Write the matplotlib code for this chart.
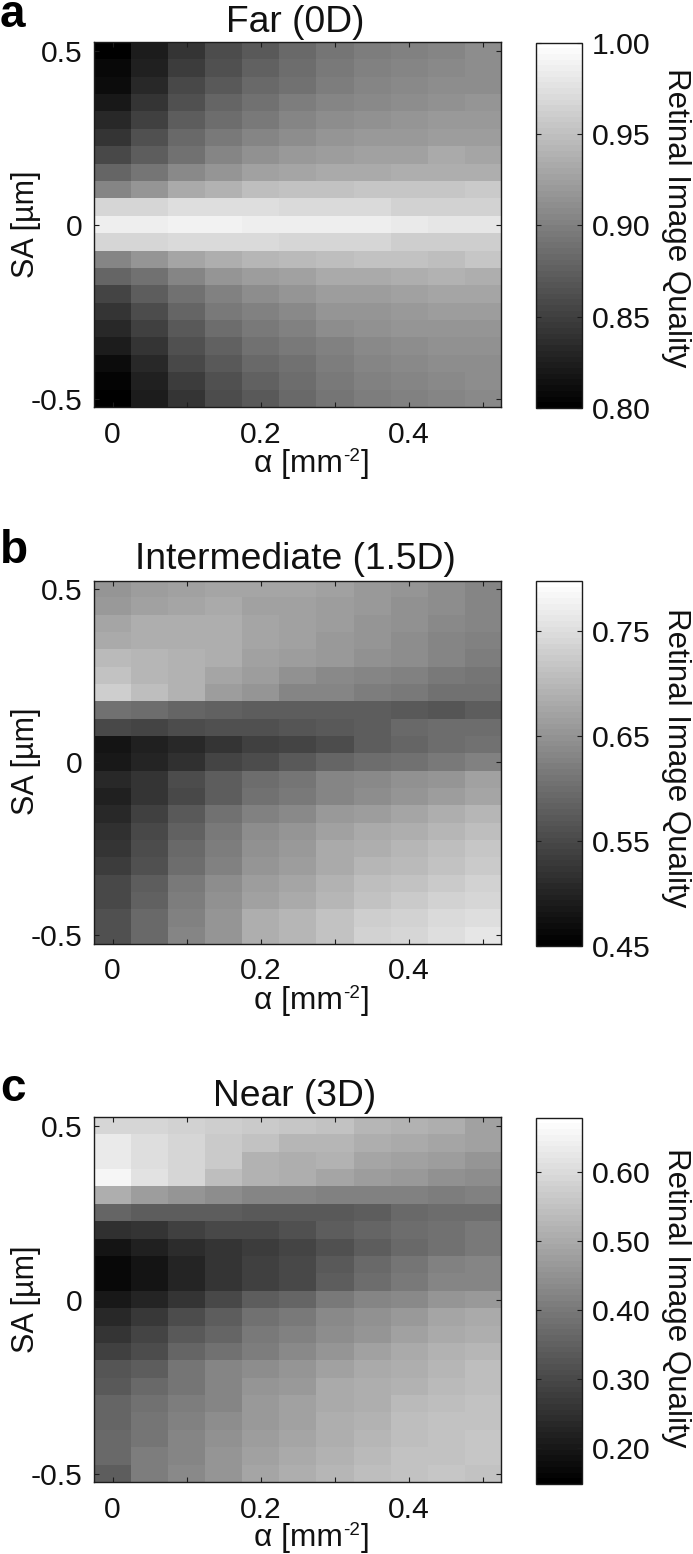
import numpy as np
import matplotlib
matplotlib.use("Agg")
import matplotlib.pyplot as plt

plt.rcParams['font.family'] = ['Liberation Sans', 'DejaVu Sans']

W, H = 693, 1554

alpha_values = [0, .05, .1, .15, .2, .25, .3, .35, .4, .45, .5]
sa_values = [.5, .45, .4, .35, .3, .25, .2, .15, .1, .05, 0,
             -.05, -.1, -.15, -.2, -.25, -.3, -.35, -.4, -.45, -.5]

# Cell values read as positions along each colour bar (0 = bottom, 255 = top)
far_levels = [
    [0, 30, 55, 78, 90, 105, 118, 125, 130, 135, 140],
    [8, 35, 62, 82, 98, 110, 120, 128, 133, 137, 140],
    [15, 42, 72, 90, 105, 115, 125, 132, 137, 140, 143],
    [27, 55, 82, 100, 115, 125, 132, 138, 142, 145, 148],
    [40, 65, 92, 110, 122, 135, 142, 146, 150, 152, 152],
    [55, 80, 105, 122, 132, 140, 150, 152, 155, 158, 158],
    [72, 95, 115, 132, 145, 152, 158, 160, 163, 168, 166],
    [100, 118, 138, 150, 160, 165, 170, 170, 172, 174, 172],
    [135, 150, 168, 178, 188, 192, 195, 196, 196, 196, 200],
    [215, 215, 222, 222, 222, 218, 218, 218, 210, 208, 208],
    [238, 238, 240, 240, 238, 238, 238, 238, 232, 230, 228],
    [214, 214, 218, 218, 216, 212, 212, 212, 206, 204, 204],
    [135, 150, 165, 175, 182, 186, 190, 192, 192, 190, 198],
    [100, 115, 135, 148, 158, 162, 170, 170, 172, 176, 172],
    [70, 92, 115, 130, 142, 148, 156, 158, 162, 166, 166],
    [55, 78, 102, 120, 130, 138, 148, 150, 154, 156, 158],
    [42, 65, 90, 108, 120, 130, 140, 145, 148, 150, 150],
    [28, 55, 80, 98, 112, 122, 130, 138, 142, 145, 146],
    [15, 42, 72, 90, 105, 115, 125, 132, 137, 140, 142],
    [6, 35, 62, 82, 98, 110, 120, 128, 133, 137, 140],
    [0, 30, 55, 78, 90, 105, 118, 125, 130, 135, 138],
]
intermediate_levels = [
    [150, 158, 162, 165, 165, 165, 160, 155, 148, 142, 135],
    [155, 162, 165, 168, 162, 160, 158, 152, 145, 140, 132],
    [165, 172, 172, 172, 165, 160, 158, 150, 145, 138, 132],
    [168, 172, 172, 172, 165, 160, 152, 148, 142, 135, 128],
    [185, 182, 178, 172, 162, 158, 152, 146, 140, 132, 125],
    [192, 182, 178, 165, 158, 145, 138, 135, 128, 122, 118],
    [205, 190, 178, 158, 150, 135, 132, 126, 120, 112, 112],
    [112, 108, 100, 98, 95, 95, 95, 92, 88, 85, 92],
    [72, 70, 78, 80, 82, 85, 88, 92, 105, 108, 108],
    [22, 32, 42, 55, 65, 70, 78, 92, 100, 108, 112],
    [24, 38, 50, 68, 78, 88, 102, 108, 115, 122, 128],
    [42, 55, 78, 95, 110, 118, 135, 138, 145, 150, 160],
    [35, 55, 75, 95, 112, 122, 135, 142, 150, 158, 165],
    [42, 65, 90, 115, 130, 138, 152, 158, 165, 172, 180],
    [48, 72, 98, 122, 140, 150, 162, 168, 172, 182, 190],
    [55, 78, 105, 125, 145, 155, 168, 175, 180, 190, 198],
    [60, 82, 108, 128, 148, 158, 170, 180, 185, 195, 200],
    [72, 95, 120, 140, 158, 165, 178, 190, 195, 200, 208],
    [75, 98, 125, 145, 162, 170, 182, 195, 200, 210, 215],
    [80, 105, 130, 150, 175, 180, 192, 205, 208, 218, 222],
    [80, 105, 132, 150, 175, 182, 195, 208, 212, 222, 228],
]
near_levels = [
    [215, 212, 210, 205, 200, 198, 192, 182, 178, 172, 160],
    [232, 222, 215, 202, 195, 182, 182, 175, 170, 165, 160],
    [232, 222, 215, 202, 178, 175, 178, 165, 160, 158, 150],
    [245, 225, 215, 188, 178, 172, 165, 158, 152, 145, 142],
    [175, 158, 150, 142, 135, 132, 130, 128, 128, 125, 128],
    [100, 95, 92, 92, 90, 88, 88, 92, 105, 108, 110],
    [50, 55, 65, 72, 75, 82, 92, 100, 108, 115, 120],
    [22, 35, 45, 55, 62, 70, 82, 92, 105, 115, 120],
    [8, 22, 38, 52, 65, 75, 90, 105, 118, 130, 135],
    [8, 22, 38, 52, 65, 75, 92, 108, 120, 132, 135],
    [25, 38, 55, 72, 92, 100, 120, 132, 138, 150, 155],
    [42, 58, 78, 95, 112, 122, 138, 145, 155, 165, 170],
    [55, 68, 88, 102, 120, 128, 140, 150, 162, 170, 175],
    [65, 78, 100, 112, 125, 138, 148, 160, 168, 178, 182],
    [85, 95, 118, 132, 142, 148, 160, 170, 175, 180, 188],
    [90, 105, 118, 132, 150, 155, 168, 172, 178, 185, 190],
    [100, 115, 125, 135, 152, 160, 170, 175, 185, 190, 192],
    [102, 118, 128, 140, 155, 162, 172, 178, 188, 192, 195],
    [105, 118, 135, 145, 158, 165, 175, 182, 190, 195, 198],
    [105, 125, 135, 148, 160, 170, 178, 185, 192, 195, 198],
    [95, 125, 138, 150, 165, 172, 180, 188, 195, 198, 195],
]

titles = ['Far (0D)', 'Intermediate (1.5D)', 'Near (3D)']
letters = ['a', 'b', 'c']
levels = [far_levels, intermediate_levels, near_levels]
vmins = [0.80, 0.45, 0.148]
vmaxs = [1.00, 0.798, 0.678]
cbar_ticks = [[0.80, 0.85, 0.90, 0.95, 1.00],
              [0.45, 0.55, 0.65, 0.75],
              [0.20, 0.30, 0.40, 0.50, 0.60]]
x_ticks = [0, .1, .2, .3, .4, .5]
x_ticklabels = ['0', '', '0.2', '', '0.4', '']
y_ticks = [-.5, 0, .5]
y_ticklabels = ['-0.5', '0', '0.5']

# pixel layout
ax_tops = [42.3, 580.7, 1117.3]
ax_bots = [407.3, 944.0, 1482.3]
cb_tops = [42.5, 581.0, 1117.7]
cb_bots = [408.0, 946.0, 1484.0]
title_base = [32, 569, 1106]
letter_base = [27, 563, 1101]
xlabel_base = [472, 1009, 1546]
side_center = [218, 758, 1298]

fig = plt.figure(figsize=(W / 100, H / 100), dpi=100, facecolor='white')
cmap = plt.get_cmap('gray', 64)
FRAME = '#1c1c1c'
TEXT = '#111111'


def axes_px(l, t, r, b):
    return fig.add_axes([l / W, 1 - b / H, (r - l) / W, (b - t) / H])


def fx(v):
    return v / W


def fy(v):
    return 1 - v / H


for i in range(3):
    ax = axes_px(94, ax_tops[i], 501, ax_bots[i])
    data = vmins[i] + np.array(levels[i]) / 255 * (vmaxs[i] - vmins[i])
    im = ax.imshow(data, cmap=cmap, vmin=vmins[i], vmax=vmaxs[i], aspect='auto',
                   interpolation='nearest',
                   extent=[alpha_values[0] - .025, alpha_values[-1] + .025,
                           sa_values[-1] - .025, sa_values[0] + .025])
    ax.set_xticks(x_ticks)
    ax.set_xticklabels(x_ticklabels)
    ax.set_yticks(y_ticks)
    ax.set_yticklabels(y_ticklabels)
    ax.tick_params(axis='x', direction='in', top=True, bottom=True, length=3.5,
                   width=0.8, color=FRAME, labelsize=21.6, pad=9.6, labelcolor=TEXT)
    ax.tick_params(axis='y', direction='in', left=True, right=True, length=3.5,
                   width=0.8, color=FRAME, labelsize=21.6, pad=8.6, labelcolor=TEXT)
    for s in ax.spines.values():
        s.set_linewidth(1.0)
        s.set_color(FRAME)

    cax = axes_px(536, cb_tops[i], 582, cb_bots[i])
    cb = fig.colorbar(im, cax=cax)
    cb.set_ticks(cbar_ticks[i])
    cb.set_ticklabels(['%.2f' % t for t in cbar_ticks[i]])
    cax.tick_params(axis='y', direction='in', left=True, right=True, length=3.5,
                    width=0.8, color=FRAME, labelsize=21.8, pad=7, labelcolor=TEXT)
    cb.outline.set_linewidth(1.0)
    cb.outline.set_edgecolor(FRAME)

    fig.text(fx(295), fy(title_base[i]), titles[i], fontsize=26.8, ha='center',
             va='baseline', color=TEXT)
    fig.text(fx(0), fy(letter_base[i]), letters[i], fontsize=33, fontweight='bold',
             ha='left', va='baseline', color='black')
    fig.text(fx(34), fy((ax_tops[i] + ax_bots[i]) / 2 - 1), 'SA [µm]', fontsize=22,
             rotation=90, ha='center', va='baseline', rotation_mode='anchor', color=TEXT)
    fig.text(fx(668), fy(side_center[i]), 'Retinal Image Quality', fontsize=22.5,
             rotation=270, ha='center', va='baseline', rotation_mode='anchor', color=TEXT)

    t1 = fig.text(fx(254), fy(xlabel_base[i]), 'α [mm', fontsize=22.8, ha='left',
                  va='baseline', color=TEXT)
    t2 = ax.annotate('-2', xy=(1, 0), xycoords=t1, xytext=(0.4, 13),
                     textcoords='offset points', fontsize=13.5, ha='left', va='baseline',
                     color=TEXT, annotation_clip=False)
    ax.annotate(']', xy=(1, 0), xycoords=(t2, t1), xytext=(0.3, 0),
                textcoords='offset points', fontsize=22.8, ha='left', va='bottom',
                color=TEXT, annotation_clip=False)

fig.savefig('out.png', dpi=100, facecolor='white')
